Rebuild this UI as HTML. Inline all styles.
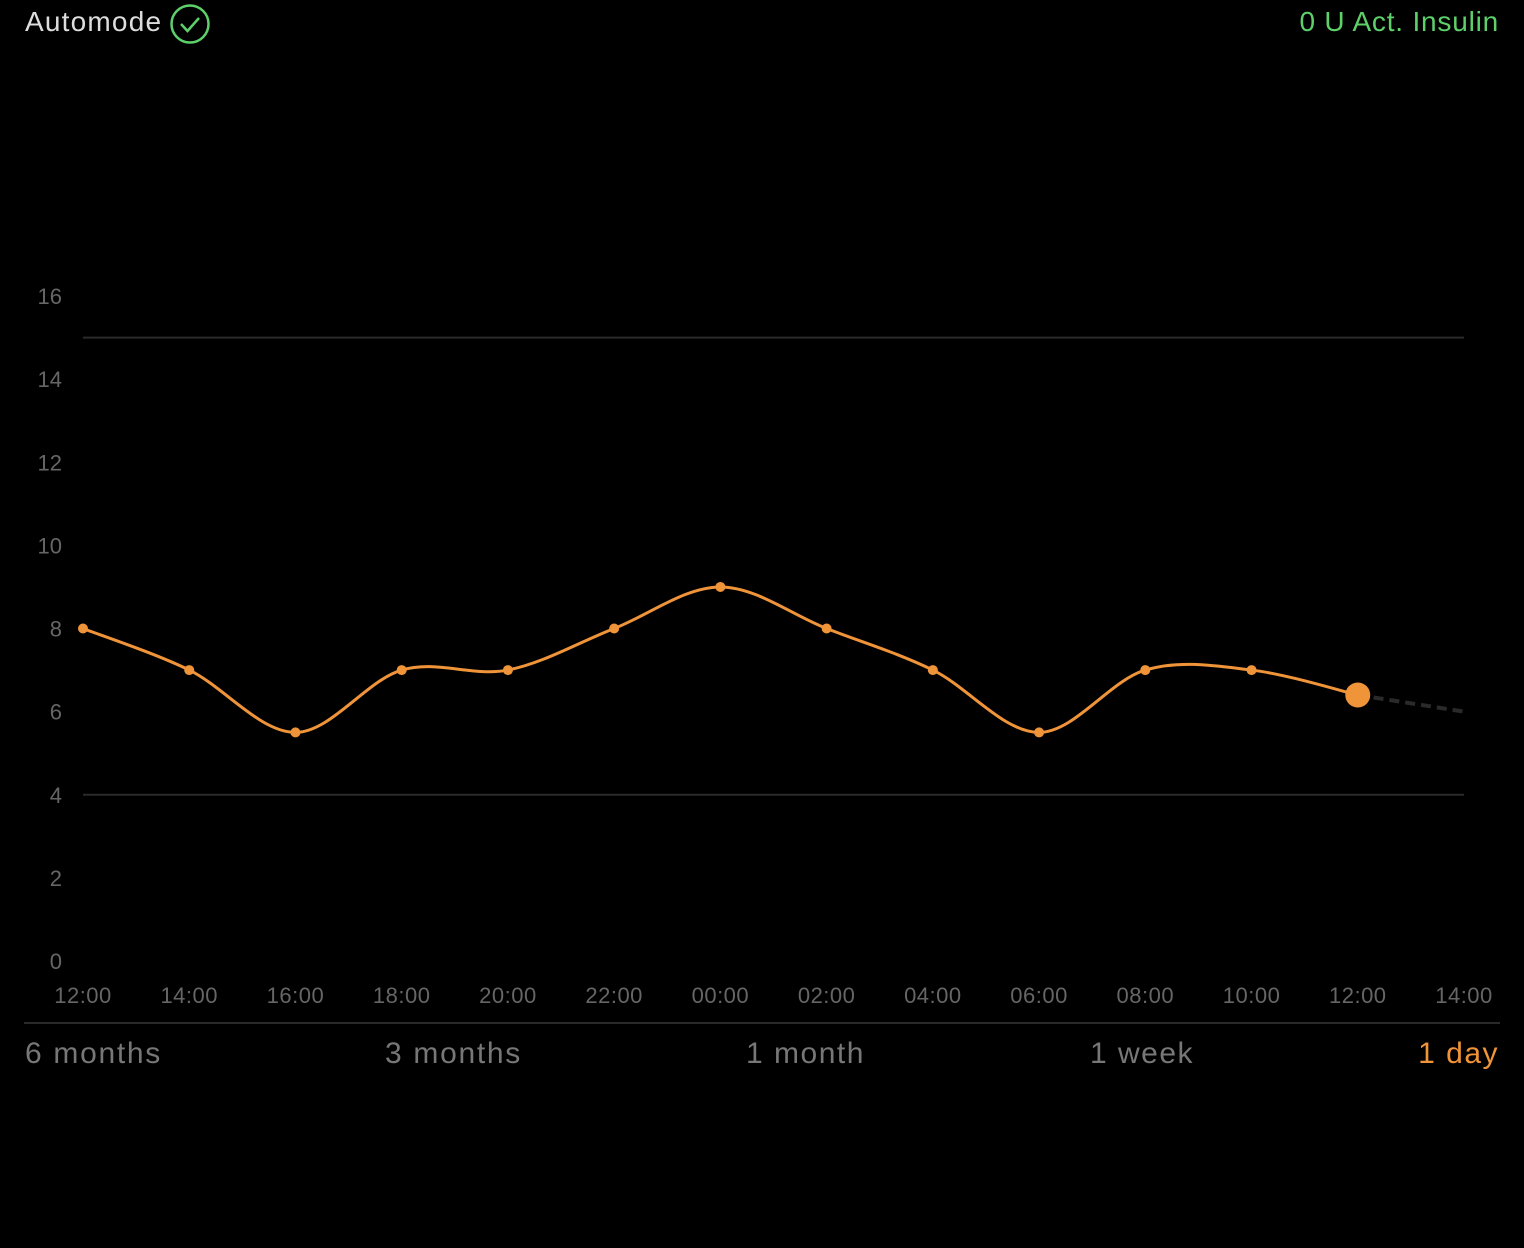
<!DOCTYPE html>
<html><head><meta charset="utf-8"><style>
html,body{margin:0;padding:0;background:#000;width:1524px;height:1248px;overflow:hidden;font-family:"Liberation Sans",sans-serif}
.t{position:absolute;white-space:nowrap}
</style></head><body>
<div class="t" style="left:25px;top:6px;font-size:28px;color:#ddd;letter-spacing:1.2px">Automode</div>
<svg style="position:absolute;left:169px;top:3px" width="42" height="42"><circle cx="21" cy="21" r="18.5" fill="none" stroke="#5ed06a" stroke-width="2.5"/><path d="M12 21 L18.5 28 L30 15" fill="none" stroke="#5ed06a" stroke-width="2.5"/></svg>
<div class="t" style="right:25px;top:6px;font-size:28px;color:#5ed06a;letter-spacing:0.8px">0 U Act. Insulin</div>
<svg id="chart" width="1524" height="1248" style="position:absolute;left:0;top:0"></svg>
<div style="position:absolute;left:24px;top:1022px;width:1476px;height:2px;background:#2a2a2a"></div>
<div class="t" style="left:25px;top:1037px;font-size:30px;color:#777;letter-spacing:1.7px">6 months</div>
<div class="t" style="left:385px;top:1037px;font-size:30px;color:#777;letter-spacing:1.7px">3 months</div>
<div class="t" style="left:746px;top:1037px;font-size:30px;color:#777;letter-spacing:1.5px">1 month</div>
<div class="t" style="left:1090px;top:1037px;font-size:30px;color:#777;letter-spacing:1.5px">1 week</div>
<div class="t" style="right:25px;top:1037px;font-size:30px;color:#f0943a;letter-spacing:1.5px">1 day</div>
<script>
const xLabels=["12:00","14:00","16:00","18:00","20:00","22:00","00:00","02:00","04:00","06:00","08:00","10:00","12:00","14:00"];
const yTicks=[0,2,4,6,8,10,12,14,16];
const values=[8,7,5.5,7,7,8,9,8,7,5.5,7,7,6.4];
const forecast=[6.4,6.0];
const bands=[15,4];
const svg=document.getElementById('chart');
const NS='http://www.w3.org/2000/svg';
const x=i=>83+i*(1464-83)/13;
const y=v=>961-v*(961-296)/16;
function mk(t,a){const e=document.createElementNS(NS,t);for(const k in a)e.setAttribute(k,a[k]);svg.appendChild(e);return e;}
yTicks.forEach(v=>{const e=mk('text',{x:62,y:y(v)+8,'text-anchor':'end','font-size':22,fill:'#666','font-family':'Liberation Sans'});e.textContent=v;

});
xLabels.forEach((l,i)=>{const e=mk('text',{x:x(i),y:1003,'text-anchor':'middle','font-size':22,fill:'#666','font-family':'Liberation Sans','letter-spacing':0.5});e.textContent=l;

});
bands.forEach(v=>{const e=mk('line',{x1:83,x2:1464,y1:y(v),y2:y(v),stroke:'#2a2a2a','stroke-width':2});

});
const pts=values.map((v,i)=>[x(i),y(v)]);
let d='M'+pts[0][0]+' '+pts[0][1];
for(let i=0;i<pts.length-1;i++){const p0=pts[Math.max(0,i-1)],p1=pts[i],p2=pts[i+1],p3=pts[Math.min(pts.length-1,i+2)];
const c1=[p1[0]+(p2[0]-p0[0])/6,p1[1]+(p2[1]-p0[1])/6],c2=[p2[0]-(p3[0]-p1[0])/6,p2[1]-(p3[1]-p1[1])/6];
d+=` C${c1[0]} ${c1[1]} ${c2[0]} ${c2[1]} ${p2[0]} ${p2[1]}`;}
const f=mk('line',{x1:x(12),y1:y(forecast[0]),x2:x(13),y2:y(forecast[1]),stroke:'#2a2a2a','stroke-width':4,'stroke-dasharray':'10 6'});


const ln=mk('path',{d:d,fill:'none',stroke:'#f0943a','stroke-width':3});


pts.forEach((p,i)=>{const last=i===pts.length-1;const c=mk('circle',{cx:p[0],cy:p[1],r:last?12.5:5,fill:'#f0943a'});

});
</script>
</body></html>
